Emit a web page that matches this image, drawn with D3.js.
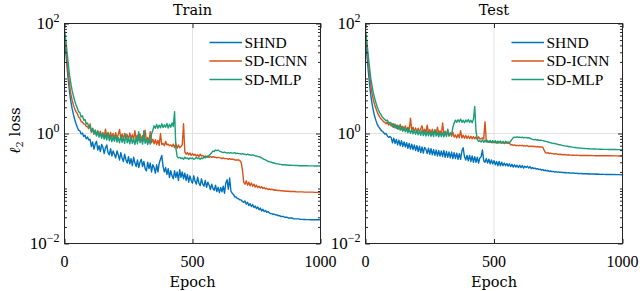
<!DOCTYPE html>
<html><head><meta charset="utf-8">
<script src="https://cdn.jsdelivr.net/npm/d3@7"></script>
<style>body{margin:0;background:#fff}svg{display:block}</style>
</head><body>
<svg id="c" width="640" height="291"></svg>
<script>
const seriesNames = ["SHND", "SD-ICNN", "SD-MLP"];
const seriesColors = ["#0072BD", "#D95319", "#1A9E77"];
const panelTitles = ["Train", "Test"];
const xTicks = [0, 500, 1000];
const yTicks = [1e-2, 1, 1e2];
const yTickLabels = [["10", "\u22122"], ["10", "0"], ["10", "2"]];
const xLabel = "Epoch";
// loss sampled every 5 epochs (0..1000)
const epochs = d3.range(0, 1001, 5);

const trainSHND = [60,30,16,9,5.5,3.8,2.8,2.2,1.8,1.5,
1.3,1.15,1.12,0.98,1.02,0.88,0.93,0.8,0.86,0.76,
0.78,0.58,0.7,0.52,0.64,0.72,0.5,0.6,0.47,0.63,
0.56,0.43,0.55,0.62,0.45,0.41,0.53,0.39,0.48,0.42,
0.36,0.48,0.41,0.33,0.45,0.36,0.31,0.42,0.33,0.29,
0.38,0.28,0.35,0.26,0.37,0.29,0.25,0.33,0.24,0.3,
0.34,0.25,0.31,0.23,0.21,0.3,0.23,0.29,0.2,0.27,
0.24,0.19,0.27,0.2,0.29,0.34,0.4,0.25,0.2,0.24,
0.18,0.23,0.16,0.21,0.17,0.15,0.21,0.16,0.2,0.14,
0.22,0.16,0.2,0.15,0.19,0.14,0.18,0.13,0.17,0.14,
0.125,0.17,0.135,0.12,0.16,0.125,0.113,0.15,0.12,0.11,
0.14,0.105,0.13,0.115,0.096,0.12,0.1,0.093,0.115,0.088,
0.105,0.084,0.104,0.087,0.11,0.082,0.125,0.145,0.097,0.155,
0.09,0.082,0.078,0.07,0.07,0.066,0.065,0.062,0.062,0.058,
0.056,0.059,0.052,0.056,0.049,0.053,0.047,0.051,0.045,0.048,
0.043,0.046,0.041,0.044,0.039,0.042,0.038,0.04,0.037,0.038,
0.036,0.035,0.035,0.034,0.034,0.033,0.033,0.032,0.032,0.031,
0.031,0.031,0.030,0.030,0.030,0.029,0.029,0.029,0.029,0.028,
0.028,0.028,0.028,0.028,0.0275,0.0275,0.0274,0.0273,0.0273,0.0272,
0.0272,0.0272,0.0271,0.0271,0.0271,0.027,0.027,0.027,0.027,0.027,
0.027];

const trainICNN = [70,40,21,12,7.5,5.2,4,3.3,2.8,2.5,
2.3,2.0,1.9,1.65,1.62,1.5,1.48,1.35,1.32,1.22,
1.5,1.05,1.22,0.97,1.15,0.93,1.12,0.9,1.1,0.88,
1.04,0.85,1.2,0.87,1.02,0.83,1.05,0.85,1.0,0.81,
1.03,0.82,0.96,1.18,0.81,0.98,0.79,1.0,0.81,0.95,
0.78,1.02,0.8,0.95,0.77,1.12,0.79,0.93,0.75,0.97,
0.77,0.91,0.73,1.15,0.71,0.85,0.69,1.08,0.68,0.79,
0.65,0.77,0.63,0.75,0.61,1.0,0.63,0.66,0.6,0.72,
0.62,0.64,0.6,0.62,0.58,0.64,0.55,0.65,0.54,0.62,
0.55,0.58,0.62,1.5,0.46,0.42,0.45,0.41,0.44,0.4,
0.43,0.4,0.42,0.39,0.41,0.38,0.42,0.39,0.4,0.37,
0.39,0.38,0.39,0.37,0.38,0.37,0.38,0.37,0.37,0.36,
0.37,0.36,0.36,0.35,0.36,0.35,0.35,0.35,0.34,0.35,
0.34,0.34,0.34,0.33,0.33,0.33,0.33,0.32,0.3,0.22,
0.13,0.12,0.138,0.115,0.13,0.112,0.126,0.11,0.12,0.106,
0.115,0.104,0.11,0.102,0.108,0.1,0.104,0.098,0.101,0.096,
0.098,0.096,0.097,0.094,0.095,0.093,0.093,0.092,0.092,0.091,
0.091,0.09,0.09,0.089,0.089,0.089,0.088,0.088,0.088,0.088,
0.088,0.087,0.087,0.087,0.087,0.087,0.087,0.086,0.086,0.086,
0.086,0.086,0.086,0.086,0.086,0.085,0.085,0.085,0.085,0.085,
0.085];

const trainMLP = [75,50,30,18,11,8,6,4.8,3.9,3.3,
2.9,2.5,2.4,2.0,2.1,1.75,1.8,1.5,1.55,1.3,
1.35,1.1,1.25,1.0,1.15,0.9,1.1,0.86,1.02,0.82,
1.0,0.79,0.95,0.76,1.05,0.74,0.9,0.71,0.88,0.72,
0.93,0.7,0.85,0.68,0.9,0.69,0.84,0.66,0.98,0.68,
0.83,0.65,0.87,0.66,0.8,0.63,0.85,0.65,1.08,0.68,
0.82,0.64,1.12,0.66,0.8,0.63,0.78,0.64,0.98,1.15,
1.38,1.25,1.46,1.24,1.42,1.27,1.5,1.28,1.44,1.3,
1.52,1.26,1.46,1.3,1.55,1.34,2.5,0.55,0.38,0.36,
0.37,0.35,0.36,0.34,0.37,0.35,0.36,0.34,0.36,0.35,
0.36,0.34,0.35,0.37,0.35,0.36,0.34,0.36,0.35,0.37,
0.36,0.38,0.37,0.4,0.42,0.45,0.48,0.47,0.5,0.49,
0.5,0.48,0.47,0.46,0.45,0.46,0.45,0.44,0.45,0.44,
0.45,0.44,0.44,0.45,0.43,0.44,0.43,0.43,0.42,0.43,
0.42,0.42,0.41,0.42,0.41,0.41,0.4,0.41,0.4,0.39,
0.39,0.38,0.38,0.37,0.36,0.35,0.34,0.33,0.32,0.31,
0.31,0.3,0.3,0.29,0.29,0.285,0.28,0.28,0.275,0.275,
0.27,0.27,0.27,0.268,0.268,0.265,0.265,0.265,0.263,0.263,
0.262,0.262,0.262,0.26,0.26,0.26,0.26,0.26,0.259,0.259,
0.259,0.258,0.258,0.258,0.258,0.257,0.257,0.257,0.257,0.256,
0.256];

const testSHND = [55,28,15,8.5,5.2,3.6,2.7,2.1,1.75,1.5,
1.35,1.25,1.15,1.1,1.05,0.98,1.0,0.9,0.85,0.88,
0.84,0.68,0.82,0.66,0.78,0.62,0.76,0.6,0.74,0.58,
0.7,0.57,0.68,0.54,0.66,0.52,0.64,0.51,0.62,0.49,
0.6,0.47,0.59,0.45,0.57,0.44,0.56,0.52,0.43,0.54,
0.42,0.53,0.41,0.51,0.4,0.5,0.39,0.49,0.39,0.48,
0.38,0.49,0.37,0.47,0.37,0.46,0.36,0.46,0.35,0.45,
0.35,0.44,0.34,0.43,0.34,0.48,0.55,0.38,0.33,0.4,
0.32,0.4,0.31,0.39,0.3,0.38,0.3,0.37,0.29,0.36,
0.38,0.5,0.32,0.3,0.35,0.29,0.34,0.28,0.33,0.28,
0.32,0.27,0.31,0.26,0.31,0.26,0.3,0.26,0.29,0.26,
0.285,0.255,0.28,0.25,0.275,0.245,0.27,0.245,0.265,0.24,
0.265,0.24,0.26,0.235,0.255,0.24,0.255,0.235,0.25,0.23,
0.24,0.23,0.235,0.225,0.23,0.22,0.225,0.215,0.22,0.212,
0.215,0.21,0.212,0.205,0.208,0.203,0.205,0.2,0.202,0.198,
0.2,0.197,0.198,0.195,0.196,0.193,0.195,0.192,0.193,0.19,
0.192,0.19,0.191,0.188,0.19,0.187,0.188,0.186,0.187,0.185,
0.186,0.185,0.185,0.184,0.185,0.183,0.184,0.183,0.183,0.182,
0.183,0.182,0.182,0.181,0.182,0.181,0.181,0.18,0.181,0.18,
0.18,0.18,0.18,0.179,0.18,0.179,0.179,0.179,0.179,0.178,
0.178];

const testICNN = [70,42,22,13,8,5.5,4.2,3.4,2.9,2.5,
2.2,2.0,1.85,1.75,1.65,1.6,1.5,1.6,1.42,1.5,
1.38,1.5,1.28,1.48,1.24,1.42,1.2,1.46,1.18,1.35,
1.15,1.38,1.13,1.3,1.1,1.9,1.15,1.3,1.07,1.26,
1.07,1.25,1.05,1.22,1.38,1.05,1.2,1.02,1.42,1.05,
1.18,1.0,1.2,1.0,1.15,0.98,1.3,0.98,1.12,0.95,
1.55,0.97,1.1,0.93,1.12,0.91,1.04,0.89,1.06,0.86,
0.94,0.83,0.96,0.84,1.12,0.83,0.93,0.82,0.92,0.81,
0.9,0.81,0.89,0.8,0.88,0.8,0.87,0.79,0.87,0.79,
0.81,0.83,0.8,1.64,0.72,0.7,0.71,0.69,0.7,0.68,
0.7,0.68,0.69,0.67,0.69,0.68,0.67,0.69,0.66,0.68,
0.67,0.66,0.67,0.62,0.63,0.61,0.62,0.6,0.61,0.6,
0.61,0.6,0.61,0.59,0.6,0.59,0.6,0.58,0.59,0.58,
0.59,0.58,0.58,0.57,0.58,0.57,0.57,0.57,0.56,0.5,
0.45,0.44,0.45,0.43,0.44,0.43,0.43,0.42,0.43,0.42,
0.42,0.415,0.42,0.41,0.415,0.41,0.41,0.405,0.41,0.405,
0.405,0.402,0.404,0.4,0.402,0.4,0.401,0.399,0.4,0.398,
0.399,0.398,0.398,0.397,0.398,0.396,0.397,0.396,0.396,0.395,
0.396,0.395,0.395,0.394,0.395,0.394,0.394,0.393,0.394,0.393,
0.393,0.393,0.392,0.393,0.392,0.392,0.392,0.391,0.392,0.391,
0.391];

const testMLP = [75,48,28,17,10.5,7.5,5.6,4.5,3.7,3.1,
2.7,2.4,2.2,2.0,1.9,1.8,1.7,1.75,1.55,1.6,
1.55,1.32,1.5,1.27,1.42,1.2,1.38,1.15,1.33,1.1,
1.28,1.07,1.24,1.03,1.2,1.01,1.17,0.99,1.15,0.97,
1.13,0.95,1.1,0.93,1.15,0.92,1.08,0.9,1.1,0.91,
1.07,0.89,1.05,0.88,1.17,0.9,1.04,0.87,1.05,0.88,
1.03,0.87,1.05,0.88,1.2,0.9,0.99,0.95,1.3,1.55,
1.75,1.6,1.78,1.62,1.83,1.6,1.74,1.57,1.76,1.63,
1.79,1.6,1.74,1.57,1.82,3.1,1.1,0.78,0.72,0.74,
0.7,0.77,0.69,0.76,0.7,0.75,0.69,0.75,0.68,0.74,
0.68,0.74,0.67,0.73,0.68,0.73,0.67,0.72,0.66,0.72,
0.69,0.7,0.68,0.72,0.78,0.84,0.86,0.85,0.87,0.85,
0.86,0.84,0.86,0.83,0.85,0.84,0.83,0.84,0.82,0.8,
0.78,0.77,0.78,0.76,0.77,0.75,0.76,0.75,0.74,0.73,
0.72,0.71,0.7,0.69,0.68,0.67,0.66,0.66,0.65,0.64,
0.63,0.625,0.62,0.61,0.6,0.595,0.59,0.585,0.58,0.575,
0.57,0.565,0.56,0.556,0.552,0.548,0.545,0.542,0.54,0.537,
0.535,0.533,0.531,0.529,0.527,0.525,0.524,0.523,0.522,0.521,
0.52,0.519,0.518,0.517,0.516,0.515,0.515,0.514,0.514,0.513,
0.513,0.512,0.512,0.511,0.511,0.511,0.51,0.51,0.51,0.51,
0.51];

const panelSeries = [[trainSHND, trainICNN, trainMLP], [testSHND, testICNN, testMLP]];

const svg = d3.select("#c");
const axisColor = "#262626";
const gridColor = "#e2e2e2";
const yTop = 23.5, yBot = 243.5;
const layouts = [
  {x0: 64.5, x1: 320.5, legendX: 209.5},
  {x0: 365.5, x1: 622.5, legendX: 511.5}
];

layouts.forEach((L, pi) => {
  const x = d3.scaleLinear().domain([0, 1000]).range([L.x0, L.x1]);
  const y = d3.scaleLog().domain([1e-2, 1e2]).range([yBot, yTop]);
  const g = svg.append("g");

  g.selectAll(".gx").data(xTicks.filter(v => v > 0 && v < 1000)).join("line")
    .attr("x1", d => x(d)).attr("x2", d => x(d)).attr("y1", yTop).attr("y2", yBot)
    .attr("stroke", gridColor).attr("stroke-width", 1);
  g.selectAll(".gy").data(yTicks.filter(v => v > 1e-2 && v < 1e2)).join("line")
    .attr("x1", L.x0).attr("x2", L.x1).attr("y1", d => y(d)).attr("y2", d => y(d))
    .attr("stroke", gridColor).attr("stroke-width", 1);

  const cid = "clip" + pi;
  svg.append("defs").append("clipPath").attr("id", cid).append("rect")
    .attr("x", L.x0).attr("y", yTop).attr("width", L.x1 - L.x0).attr("height", yBot - yTop);

  const line = d3.line().x((d, i) => x(epochs[i])).y(d => y(d));
  const lg = g.append("g").attr("clip-path", `url(#${cid})`);
  panelSeries[pi].forEach((s, si) => {
    lg.append("path").attr("d", line(s)).attr("fill", "none")
      .attr("stroke", seriesColors[si]).attr("stroke-width", 1.4)
      .attr("stroke-linejoin", "round");
  });

  const minor = y.ticks().filter(v => !yTicks.some(t => Math.abs(t - v) / t < 1e-9));
  const styleAxis = sel => { sel.select(".domain").remove(); sel.selectAll("line").attr("stroke", axisColor); sel.selectAll("text").remove(); };
  g.append("g").attr("transform", `translate(0,${yBot})`)
    .call(d3.axisBottom(x).tickValues(xTicks).tickSize(-4.5)).call(styleAxis);
  g.append("g").attr("transform", `translate(0,${yTop})`)
    .call(d3.axisTop(x).tickValues(xTicks).tickSize(-4.5)).call(styleAxis);
  g.append("g").attr("transform", `translate(${L.x0},0)`)
    .call(d3.axisLeft(y).tickValues(yTicks).tickSize(-4.5)).call(styleAxis);
  g.append("g").attr("transform", `translate(${L.x0},0)`)
    .call(d3.axisLeft(y).tickValues(minor).tickSize(-2.5)).call(styleAxis);
  g.append("g").attr("transform", `translate(${L.x1},0)`)
    .call(d3.axisRight(y).tickValues(yTicks).tickSize(-4.5)).call(styleAxis);
  g.append("g").attr("transform", `translate(${L.x1},0)`)
    .call(d3.axisRight(y).tickValues(minor).tickSize(-2.5)).call(styleAxis);

  g.append("rect").attr("x", L.x0).attr("y", yTop).attr("width", L.x1 - L.x0).attr("height", yBot - yTop)
    .attr("fill", "none").attr("stroke", axisColor).attr("stroke-width", 1);

  g.selectAll(".xl").data(xTicks).join("text")
    .attr("x", d => x(d)).attr("y", 266.5).attr("text-anchor", "middle")
    .attr("font-family", "Liberation Serif").attr("font-size", 16).attr("fill", "#000")
    .text(d => d);
  yTicks.forEach((v, i) => {
    const t = g.append("text").attr("x", L.x0 - 5).attr("y", y(v) + 5.2).attr("text-anchor", "end")
      .attr("font-family", "Liberation Serif").attr("fill", "#000");
    t.append("tspan").attr("font-size", 17).text(yTickLabels[i][0]);
    t.append("tspan").attr("font-size", 12).attr("dy", -7).text(yTickLabels[i][1]);
  });

  const cx = (L.x0 + L.x1) / 2;
  g.append("text").attr("x", cx).attr("y", 15).attr("text-anchor", "middle")
    .attr("font-family", "DejaVu Serif").attr("font-size", 14.5).attr("fill", "#000").text(panelTitles[pi]);
  g.append("text").attr("x", cx).attr("y", 286.5).attr("text-anchor", "middle")
    .attr("font-family", "DejaVu Serif").attr("font-size", 14.5).attr("fill", "#000").text(xLabel);

  const legY = [42.5, 61, 79.5];
  seriesNames.forEach((n, si) => {
    g.append("line").attr("x1", L.legendX).attr("x2", L.legendX + 32.5)
      .attr("y1", legY[si]).attr("y2", legY[si]).attr("stroke", seriesColors[si]).attr("stroke-width", 1.4);
    g.append("text").attr("x", L.legendX + 35).attr("y", legY[si] + 5.2)
      .attr("font-family", "Liberation Serif").attr("font-size", 15.5).attr("fill", "#000").text(n);
  });
});

const yl = svg.append("text").attr("transform", "translate(20,130.5) rotate(-90)")
  .attr("text-anchor", "middle").attr("font-family", "DejaVu Serif").attr("font-size", 15).attr("fill", "#000");
yl.append("tspan").attr("font-style", "italic").text("\u2113");
yl.append("tspan").attr("font-size", 10).attr("dy", 3).text("2");
yl.append("tspan").attr("dy", -3).text(" loss");
</script>
</body></html>
